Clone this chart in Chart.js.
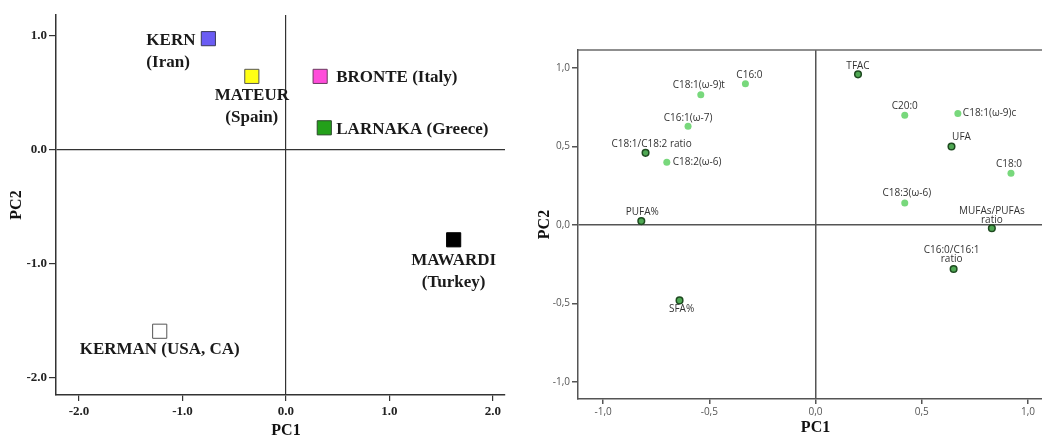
<!DOCTYPE html>
<html>
<head>
<meta charset="utf-8">
<title>PCA scores and loadings</title>
<script src="https://cdn.jsdelivr.net/npm/chart.js@4.4.1/dist/chart.umd.min.js"></script>
<style>
  html, body { margin: 0; padding: 0; background: #fff; }
  #wrap { position: relative; width: 1042px; height: 437px; overflow: hidden; }
  #scores { position: absolute; left: 0; top: 0; }
  #loadings { position: absolute; left: 520px; top: 0; }
</style>
</head>
<body>
<div id="wrap">
  <canvas id="scores" width="520" height="437"></canvas>
  <canvas id="loadings" width="522" height="437"></canvas>
</div>
<script>
// ---- Score plot: pistachio cultivars ----
const cultivarNames = [
  ['KERN', '(Iran)'],
  ['MATEUR', '(Spain)'],
  ['BRONTE (Italy)'],
  ['LARNAKA (Greece)'],
  ['MAWARDI', '(Turkey)'],
  ['KERMAN (USA, CA)']
];
const cultivarPC1 = [-0.75, -0.33, 0.33, 0.37, 1.62, -1.22];
const cultivarPC2 = [0.97, 0.64, 0.64, 0.19, -0.79, -1.59];
const scoreTicksX = [-2, -1, 0, 1, 2];
const scoreTickLabelsX = ['-2.0', '-1.0', '0.0', '1.0', '2.0'];
const scoreTicksY = [-2, -1, 0, 1];
const scoreTickLabelsY = ['-2.0', '-1.0', '0.0', '1.0'];

// ---- Loading plot: fatty acids and indices ----
const acidNames = ['C18:1(\u03c9-9)t', 'C16:0', 'C16:1(\u03c9-7)', 'C18:2(\u03c9-6)', 'C20:0', 'C18:1(\u03c9-9)c', 'C18:0', 'C18:3(\u03c9-6)'];
const acidPC1 = [-0.54, -0.33, -0.60, -0.70, 0.42, 0.67, 0.92, 0.42];
const acidPC2 = [0.83, 0.90, 0.63, 0.40, 0.70, 0.71, 0.33, 0.14];
const indexNames = [['C18:1/C18:2 ratio'], ['PUFA%'], ['TFAC'], ['UFA'], ['MUFAs/PUFAs', 'ratio'], ['C16:0/C16:1', 'ratio'], ['SFA%']];
const indexPC1 = [-0.80, -0.82, 0.20, 0.64, 0.83, 0.65, -0.64];
const indexPC2 = [0.46, 0.025, 0.96, 0.50, -0.02, -0.28, -0.48];
const loadTicks = [-1, -0.5, 0, 0.5, 1];
const loadTickLabels = ['-1,0', '-0,5', '0,0', '0,5', '1,0'];

// ---- Styles ----
const cultivarFill = ['#6a5cf4', '#ffff14', '#ff4cda', '#23a01a', '#000000', '#ffffff'];
const cultivarEdge = ['#3a3a5a', '#555555', '#6a3a60', '#2a4a2a', '#000000', '#555555'];
const cultivarLabelPos = [
  { align: 'left', dx: -62, dy: 2 },
  { align: 'center', dx: 0, dy: 19 },
  { align: 'left', dx: 16, dy: 1 },
  { align: 'left', dx: 12, dy: 2 },
  { align: 'center', dx: 0, dy: 21 },
  { align: 'center', dx: 0, dy: 18 }
];
const acidLabelPos = [
  { align: 'center', dx: -2, dy: -9.5 },
  { align: 'center', dx: 4, dy: -9 },
  { align: 'center', dx: 0, dy: -8 },
  { align: 'left', dx: 6, dy: 0 },
  { align: 'center', dx: 0, dy: -9 },
  { align: 'left', dx: 5, dy: 0 },
  { align: 'center', dx: -2, dy: -9 },
  { align: 'center', dx: 2, dy: -10 }
];
const indexLabelPos = [
  { align: 'center', dx: 6, dy: -9 },
  { align: 'center', dx: 1, dy: -8.5 },
  { align: 'center', dx: 0, dy: -8 },
  { align: 'center', dx: 10, dy: -9.5 },
  { align: 'center', dx: 0, dy: -17.5 },
  { align: 'center', dx: -2, dy: -19 },
  { align: 'center', dx: 2, dy: 9 }
];

const SERIF = '"Liberation Serif", "Times New Roman", serif';
const SANS = '"Open Sans", "Liberation Sans", Arial, sans-serif';

function toPoints(xs, ys) { return xs.map((x, i) => ({ x: x, y: ys[i] })); }

// Text next to each point, one or more lines
const pointLabels = {
  id: 'pointLabels',
  afterDatasetsDraw(chart, args, opts) {
    const ctx = chart.ctx;
    chart.data.datasets.forEach((ds, di) => {
      if (!ds.names) return;
      const meta = chart.getDatasetMeta(di);
      ctx.save();
      ctx.font = opts.font;
      ctx.fillStyle = opts.color;
      ctx.textBaseline = 'middle';
      meta.data.forEach((el, i) => {
        const p = ds.placement[i];
        ctx.textAlign = p.align;
        [].concat(ds.names[i]).forEach((t, k) => {
          ctx.fillText(t, el.x + p.dx, el.y + p.dy + k * opts.lineGap);
        });
      });
      ctx.restore();
    });
  }
};

// Horizontal axis title centred on the origin, optional top frame line
const axisDecor = {
  id: 'axisDecor',
  afterDraw(chart, args, opts) {
    const ctx = chart.ctx;
    const xs = chart.scales.x;
    ctx.save();
    ctx.font = opts.font;
    ctx.fillStyle = '#111';
    ctx.textAlign = 'center';
    ctx.textBaseline = 'middle';
    ctx.fillText(opts.text, xs.getPixelForValue(0), opts.y);
    if (opts.frameTop) {
      const a = chart.chartArea;
      ctx.strokeStyle = opts.frameColor;
      ctx.lineWidth = opts.frameWidth;
      ctx.beginPath();
      ctx.moveTo(a.left, a.top);
      ctx.lineTo(chart.width, a.top);
      ctx.stroke();
    }
    ctx.restore();
  }
};

function zeroLine(color) {
  return (c) => (c.tick && c.tick.value === 0 ? color : 'rgba(0,0,0,0)');
}

// ---- Scores chart ----
new Chart(document.getElementById('scores'), {
  type: 'scatter',
  data: {
    datasets: [{
      data: toPoints(cultivarPC1, cultivarPC2),
      names: cultivarNames,
      placement: cultivarLabelPos,
      pointStyle: 'rect',
      pointRadius: 10,
      pointHoverRadius: 10,
      backgroundColor: cultivarFill,
      borderColor: cultivarEdge,
      borderWidth: 1
    }]
  },
  options: {
    responsive: false,
    animation: false,
    devicePixelRatio: 1,
    layout: { autoPadding: false, padding: { left: 0, right: 15, top: 15, bottom: 0 } },
    plugins: {
      legend: { display: false },
      tooltip: { enabled: false },
      pointLabels: { font: 'bold 17px ' + SERIF, color: '#1a1a1a', lineGap: 22 },
      axisDecor: { text: 'PC1', font: 'bold 16px ' + SERIF, y: 431 }
    },
    scales: {
      x: {
        type: 'linear',
        min: -2.222, max: 2.116,
        afterFit: (s) => { s.height = 42; },
        afterBuildTicks: (s) => { s.ticks = scoreTicksX.map(v => ({ value: v })); },
        ticks: {
          callback: (v, i) => scoreTickLabelsX[i],
          font: { family: SERIF, size: 13, weight: 'bold' },
          color: '#222', padding: 3, maxRotation: 0
        },
        grid: { color: zeroLine('#333'), tickColor: '#333', tickLength: 6, lineWidth: 1.2 },
        border: { display: true, color: '#333', width: 1.5 }
      },
      y: {
        type: 'linear',
        min: -2.148, max: 1.177,
        afterFit: (s) => { s.width = 56; },
        afterBuildTicks: (s) => { s.ticks = scoreTicksY.map(v => ({ value: v })); },
        ticks: {
          callback: (v, i) => scoreTickLabelsY[i],
          font: { family: SERIF, size: 13, weight: 'bold' },
          color: '#222', padding: 2
        },
        grid: { color: zeroLine('#333'), tickColor: '#333', tickLength: 7, lineWidth: 1.2 },
        border: { display: true, color: '#333', width: 1.5 },
        title: {
          display: true, text: 'PC2', color: '#111',
          font: { family: SERIF, size: 16, weight: 'bold', lineHeight: 1 },
          padding: { top: 9, bottom: 0 }
        }
      }
    }
  },
  plugins: [pointLabels, axisDecor]
});

// ---- Loadings chart ----
new Chart(document.getElementById('loadings'), {
  type: 'scatter',
  data: {
    datasets: [{
      data: toPoints(acidPC1, acidPC2),
      names: acidNames,
      placement: acidLabelPos,
      pointRadius: 3.5,
      pointHoverRadius: 3.5,
      backgroundColor: '#78d87c',
      borderColor: '#78d87c',
      borderWidth: 0
    }, {
      data: toPoints(indexPC1, indexPC2),
      names: indexNames,
      placement: indexLabelPos,
      pointRadius: 3.3,
      pointHoverRadius: 3.3,
      backgroundColor: '#4fa853',
      borderColor: '#1e4a20',
      borderWidth: 1.5
    }]
  },
  options: {
    responsive: false,
    animation: false,
    devicePixelRatio: 1,
    layout: { autoPadding: false, padding: { left: 0, right: 0, top: 50, bottom: 0 } },
    plugins: {
      legend: { display: false },
      tooltip: { enabled: false },
      pointLabels: { font: '10px ' + SANS, color: '#333', lineGap: 9 },
      axisDecor: {
        text: 'PC1', font: 'bold 16px ' + SERIF, y: 428,
        frameTop: true, frameColor: '#6a6a6a', frameWidth: 1.5
      }
    },
    scales: {
      x: {
        type: 'linear',
        min: -1.118, max: 1.066,
        afterFit: (s) => { s.height = 38; },
        afterBuildTicks: (s) => { s.ticks = loadTicks.map(v => ({ value: v })); },
        ticks: {
          callback: (v, i) => loadTickLabels[i],
          font: { family: SANS, size: 10 },
          color: '#555', padding: 2, maxRotation: 0
        },
        grid: { color: zeroLine('#555'), tickColor: '#555', tickLength: 5, lineWidth: 1.5 },
        border: { display: true, color: '#555', width: 1.5 }
      },
      y: {
        type: 'linear',
        min: -1.108, max: 1.115,
        afterFit: (s) => { s.width = 58; },
        afterBuildTicks: (s) => { s.ticks = loadTicks.map(v => ({ value: v })); },
        ticks: {
          callback: (v, i) => loadTickLabels[i],
          font: { family: SANS, size: 10 },
          color: '#555', padding: 2
        },
        grid: { color: zeroLine('#555'), tickColor: '#555', tickLength: 6, lineWidth: 1.5 },
        border: { display: true, color: '#555', width: 1.5 },
        title: {
          display: true, text: 'PC2', color: '#111',
          font: { family: SERIF, size: 16, weight: 'bold', lineHeight: 1 },
          padding: { top: 17, bottom: 0 }
        }
      }
    }
  },
  plugins: [pointLabels, axisDecor]
});
</script>
</body>
</html>
